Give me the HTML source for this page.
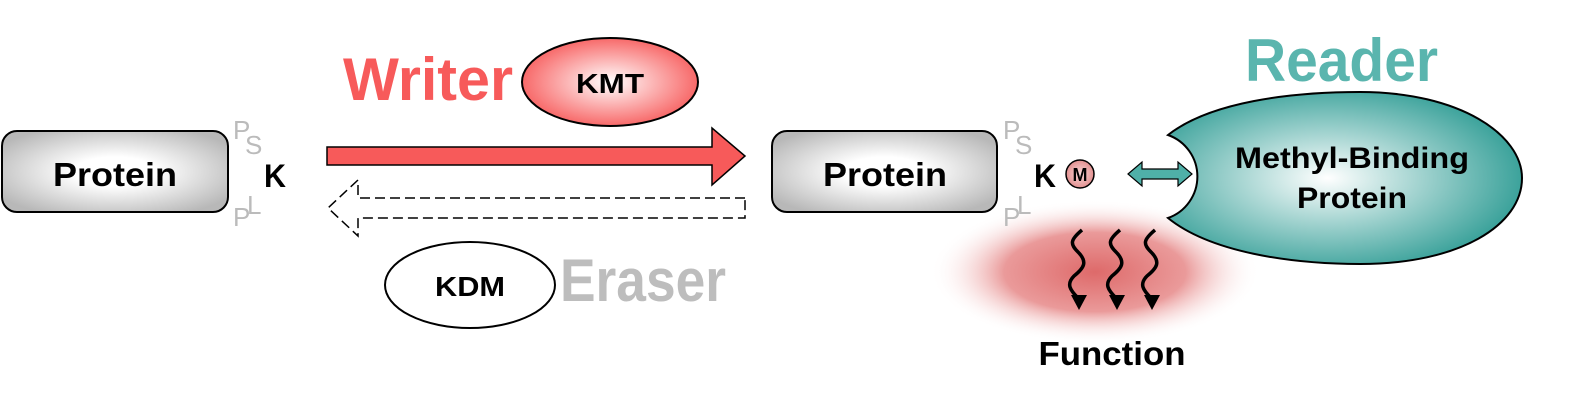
<!DOCTYPE html>
<html><head><meta charset="utf-8"><style>html,body{margin:0;padding:0;background:#fff}svg{display:block}text{font-family:"Liberation Sans",sans-serif;font-weight:bold}</style></head>
<body>
<svg width="1579" height="404" viewBox="0 0 1579 404" xmlns="http://www.w3.org/2000/svg">
<defs>
<radialGradient id="gbox" cx="50%" cy="50%" r="60%"><stop offset="0.3" stop-color="#ffffff"/><stop offset="1" stop-color="#b8b8b8"/></radialGradient>
<radialGradient id="gred" cx="50%" cy="50%" r="55%"><stop offset="0" stop-color="#ffffff"/><stop offset="1" stop-color="#f75a5a"/></radialGradient>
<radialGradient id="gm" cx="50%" cy="50%" r="55%"><stop offset="0" stop-color="#f8d8d8"/><stop offset="1" stop-color="#e08888"/></radialGradient>
<radialGradient id="gteal" cx="45%" cy="50%" r="60%"><stop offset="0" stop-color="#ffffff"/><stop offset="1" stop-color="#2a9a92"/></radialGradient>
<radialGradient id="gglow" cx="50%" cy="50%" r="50%"><stop offset="0" stop-color="#de6a6a"/><stop offset="0.55" stop-color="#ea9a9a"/><stop offset="1" stop-color="#ffffff" stop-opacity="0"/></radialGradient>
</defs>
<ellipse cx="1095" cy="272" rx="165" ry="72" fill="url(#gglow)"/>
<rect x="2" y="131" width="226" height="81" rx="15" fill="url(#gbox)" stroke="#000" stroke-width="2"/>
<text x="115" y="186" font-size="33" text-anchor="middle" textLength="124" lengthAdjust="spacingAndGlyphs">Protein</text>
<rect x="772" y="131" width="225" height="81" rx="15" fill="url(#gbox)" stroke="#000" stroke-width="2"/>
<text x="885" y="186" font-size="33" text-anchor="middle" textLength="124" lengthAdjust="spacingAndGlyphs">Protein</text>
<g fill="#bbb" font-size="26">
<text x="233" y="139" style="font-weight:normal">P</text><text x="245" y="154" style="font-weight:normal">S</text>
<text x="233" y="226" style="font-weight:normal">P</text><text x="247" y="214" style="font-weight:normal">L</text>
<text x="1003" y="139" style="font-weight:normal">P</text><text x="1015" y="154" style="font-weight:normal">S</text>
<text x="1003" y="226" style="font-weight:normal">P</text><text x="1017" y="214" style="font-weight:normal">L</text>
</g>
<text x="264" y="187" font-size="32" textLength="22" lengthAdjust="spacingAndGlyphs">K</text>
<text x="1034" y="187" font-size="32" textLength="22" lengthAdjust="spacingAndGlyphs">K</text>
<circle cx="1080" cy="174" r="14" fill="url(#gm)" stroke="#000" stroke-width="1.5"/>
<text x="1080" y="181" font-size="18" text-anchor="middle">M</text>
<path d="M327,147 L712,147 L712,128 L745,156 L712,185 L712,165 L327,165 Z" fill="#f75a5a" stroke="#000" stroke-width="1.5"/>
<path d="M745,198 L358,198 L358,180 L328,208 L358,236 L358,218 L745,218 Z" fill="none" stroke="#000" stroke-width="1.5" stroke-dasharray="10,5"/>
<ellipse cx="610" cy="82" rx="88" ry="44" fill="url(#gred)" stroke="#000" stroke-width="2"/>
<text x="610" y="93" font-size="28" text-anchor="middle" textLength="68" lengthAdjust="spacingAndGlyphs">KMT</text>
<text x="343" y="100" font-size="60" fill="#f75a5a" textLength="170" lengthAdjust="spacingAndGlyphs">Writer</text>
<ellipse cx="470" cy="285" rx="85" ry="43" fill="#fff" stroke="#000" stroke-width="2"/>
<text x="470" y="296" font-size="28" text-anchor="middle" textLength="70" lengthAdjust="spacingAndGlyphs">KDM</text>
<text x="560" y="301" font-size="60" fill="#bdbdbd" textLength="166" lengthAdjust="spacingAndGlyphs">Eraser</text>
<text x="1245" y="81" font-size="60" fill="#5ab5ae" textLength="193" lengthAdjust="spacingAndGlyphs">Reader</text>
<path d="M1168,135 C1210,102 1290,92 1360,92 C1460,92 1522,135 1522,178 C1522,225 1460,264 1360,264 C1290,264 1210,252 1168,218 A44,44 0 0 0 1168,135 Z" fill="url(#gteal)" stroke="#000" stroke-width="2"/>
<text x="1352" y="168" font-size="30" text-anchor="middle" textLength="234" lengthAdjust="spacingAndGlyphs">Methyl-Binding</text>
<text x="1352" y="208" font-size="30" text-anchor="middle" textLength="110" lengthAdjust="spacingAndGlyphs">Protein</text>
<path d="M1128,174 L1142,162 L1142,169 L1178,169 L1178,162 L1192,174 L1178,186 L1178,179 L1142,179 L1142,186 Z" fill="#4fb0a8" stroke="#000" stroke-width="1.2"/>
<g fill="none" stroke="#000" stroke-width="3.5">
<path d="M1082,230 C1070,240 1070,244 1078,252 C1088,262 1084,268 1074,276 C1066,284 1070,290 1078,298"/>
<path d="M1120,230 C1108,240 1108,244 1116,252 C1126,262 1122,268 1112,276 C1104,284 1108,290 1116,298"/>
<path d="M1155,230 C1143,240 1143,244 1151,252 C1161,262 1157,268 1147,276 C1139,284 1143,290 1151,298"/>
</g>
<g fill="#000">
<path d="M1071,295 L1087,295 L1079,310 Z"/>
<path d="M1109,295 L1125,295 L1117,310 Z"/>
<path d="M1144,295 L1160,295 L1152,310 Z"/>
</g>
<text x="1112" y="365" font-size="33" text-anchor="middle" textLength="147" lengthAdjust="spacingAndGlyphs">Function</text>
</svg>
</body></html>
